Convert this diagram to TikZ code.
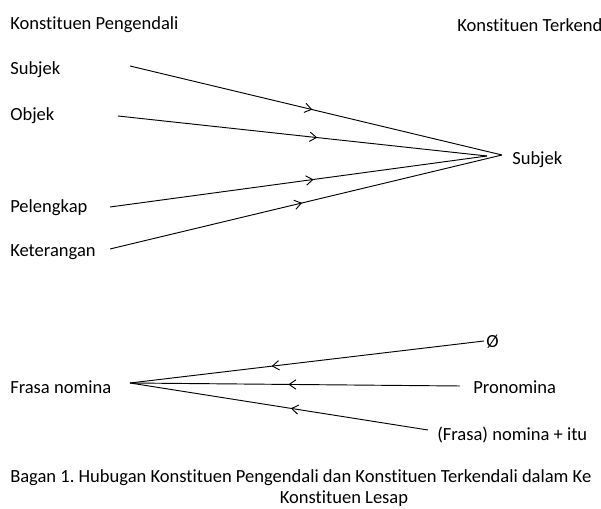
\documentclass[tikz,border=0pt]{standalone}
\usepackage{fontspec}
\setmainfont[Ligatures={NoCommon,NoContextual}]{Carlito}
\usetikzlibrary{arrows.meta,decorations.markings}
\frenchspacing

\tikzset{
  lbl/.style={anchor=west,inner sep=0pt,font=\fontsize{13.9}{16}\selectfont},
  link/.style={draw,line width=0.7pt,postaction={decorate},
    decoration={markings,mark=at position #1 with {\arrow{Straight Barb[length=5pt,width=7pt]}}}},
}

\begin{document}
\begin{tikzpicture}[x=0.75pt,y=-0.75pt]
 \useasboundingbox (0,0) rectangle (601,509);
 \clip (0,0) rectangle (601,509);

 % headings
 \node[lbl] (hleft) at (10,25) {Konstituen Pengendali};
 \node[lbl] (hright) at (457,25) {Konstituen Terkendali};

 % upper part
 \node[lbl] (subj) at (10,70) {Subjek};
 \node[lbl] (obj) at (10,116) {Objek};
 \node[lbl] (pel) at (10,208) {Pelengkap};
 \node[lbl] (ket) at (10,252) {Keterangan};
 \node[lbl] (subjR) at (512,160) {Subjek};

 \coordinate (s1) at (130,66);
 \coordinate (s2) at (118,116);
 \coordinate (s3) at (110,207);
 \coordinate (s4) at (110,249);
 \coordinate (t1) at (502,155);
 \coordinate (t2) at (487,156);

 \path[link=0.49] (s1) -- (t1);
 \path[link=0.54] (s2) -- (t2);
 \path[link=0.54] (s3) -- (t2);
 \path[link=0.49] (s4) -- (t1);

 % lower part
 \node[lbl] (fn) at (10,387) {Frasa nomina};
 \node[lbl] (nol) at (486,342) {Ø};
 \node[lbl] (pron) at (473,387) {Pronomina};
 \node[lbl] (fnitu) at (437,435) {(Frasa) nomina + itu};

 \coordinate (f0) at (130,383);
 \coordinate (e1) at (484,341);
 \coordinate (e2) at (460,386);
 \coordinate (e3) at (428,430);

 \path[link=0.6] (e1) -- (f0);
 \path[link=0.52] (e2) -- (f0);
 \path[link=0.46] (e3) -- (f0);

 % caption
 \node[lbl] (cap1) at (10,478) {Bagan 1. Hubugan Konstituen Pengendali dan Konstituen Terkendali dalam Ke};
 \node[lbl,anchor=center] (cap2) at (344,499) {Konstituen Lesap};
\end{tikzpicture}
\end{document}
